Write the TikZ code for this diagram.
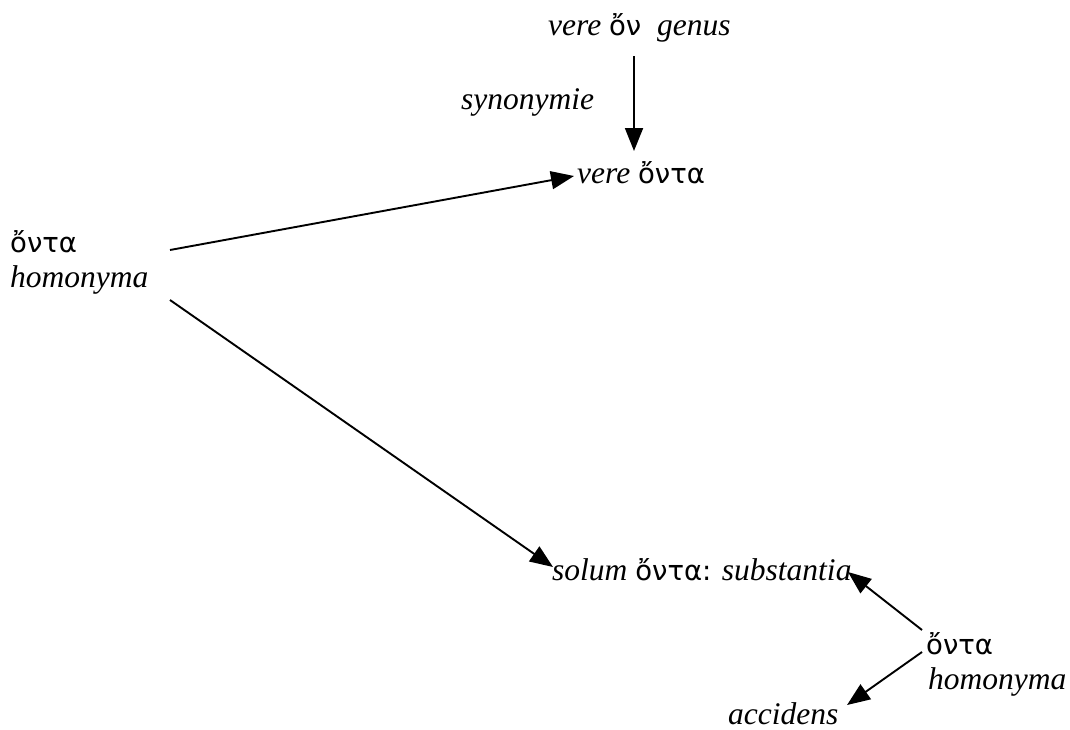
\documentclass[tikz,border=0pt]{standalone}
\usepackage{fontspec}
\setmainfont{Liberation Serif}
\newfontfamily\grk{DejaVu Sans}
\usetikzlibrary{arrows.meta}
\newcommand{\gr}[1]{{\upshape\grk\fontsize{27.5}{30}\selectfont #1}}
\tikzset{
  lbl/.style={inner sep=0pt, anchor=base west, font=\fontsize{31.5}{35}\selectfont\itshape},
  arr/.style={line width=1.9pt, -{Triangle[length=23pt,width=18pt]}}
}
\begin{document}
\begin{tikzpicture}[x=1pt,y=-1pt]
\useasboundingbox (0,0) rectangle (1070,729);
\node[lbl] (G) at (548,35) {vere \gr{ὄν}\ \ genus};
\node[lbl] (S) at (461,109) {synonymie};
\node[lbl] (V) at (577,183) {vere \gr{ὄντα}};
\node[lbl] (L) at (10,252) {\gr{ὄντα}};
\node[lbl] (Lh) at (10,287) {homonyma};
\node[lbl] (SU) at (552,580) {solum \gr{ὄντα:} substantia};
\node[lbl] (R) at (926,654) {\gr{ὄντα}};
\node[lbl] (Rh) at (928,689) {homonyma};
\node[lbl] (A) at (728,724) {accidens};
\draw[arr] ([shift={(86pt,-21pt)}]G.base west) -- ([shift={(57pt,32pt)}]V.base west);
\draw[arr] ([shift={(160pt,37pt)}]Lh.base west) -- ([shift={(-3pt,7pt)}]V.base west);
\draw[arr] ([shift={(160pt,-13pt)}]Lh.base west) -- ([shift={(1pt,13pt)}]SU.base west);
\draw[arr] ([shift={(-4pt,24pt)}]R.base west) -- ([shift={(-78pt,82pt)}]R.base west);
\draw[arr] ([shift={(-4pt,2pt)}]R.base west) -- ([shift={(119pt,19pt)}]A.base west);
\end{tikzpicture}
\end{document}
